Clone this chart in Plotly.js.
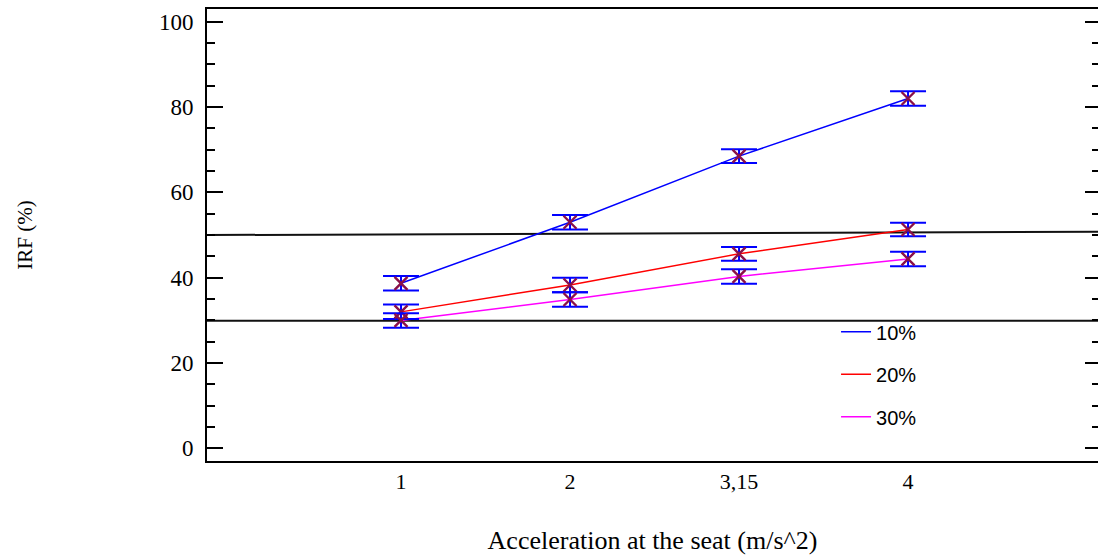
<!DOCTYPE html>
<html>
<head>
<meta charset="utf-8">
<script src="https://cdn.plot.ly/plotly-3.0.1.min.js"></script>
<style>html,body{margin:0;padding:0;background:#fff;}#chart{width:1102px;height:555px;}</style>
</head>
<body>
<div id="chart"></div>
<script>
// Data
const categories = ['1', '2', '3,15', '4'];
const seriesNames = ['10%', '20%', '30%'];
const irf10 = [38.7, 53.0, 68.5, 82.0];
const irf20 = [32.0, 38.3, 45.6, 51.3];
const irf30 = [30.0, 34.9, 40.3, 44.4];
const err10 = [1.7, 1.7, 1.6, 1.7];
const err20 = [1.7, 1.7, 1.6, 1.6];
const err30 = [1.7, 1.7, 1.7, 1.7];
const refLineUpper = [50.0, 50.8];   // slightly sloped black line (left, right)
const refLineLower = [29.9, 29.9];   // black line (left, right)
const yTickVals = [0, 20, 40, 60, 80, 100];

const lineColors = ['#0000ff', '#ff0000', '#ff00ff'];
const values = [irf10, irf20, irf30];
const errors = [err10, err20, err30];

const traces = [];
values.forEach((v, i) => {
  traces.push({
    x: categories, y: v, type: 'scatter', mode: 'lines', name: seriesNames[i],
    legendgroup: 'g' + i,
    line: {color: lineColors[i], width: 1.5}, hoverinfo: 'x+y+name'
  });
});
values.forEach((v, i) => {
  traces.push({
    x: categories, y: v, type: 'scatter', mode: 'markers', name: seriesNames[i],
    legendgroup: 'g' + i, showlegend: false,
    marker: {symbol: 'x-thin-open', size: 13, color: '#8a1048', line: {color: '#8a1048', width: 2.4}},
    error_y: {type: 'data', array: errors[i], visible: true, color: '#0000ff', thickness: 2, width: 18}
  });
});
// right-side mirror ticks trace (invisible) on secondary axis
traces.push({x: categories, y: irf10, yaxis: 'y2', type: 'scatter', mode: 'markers',
  marker: {opacity: 0}, showlegend: false, hoverinfo: 'skip'});

const serif = 'Liberation Serif, Times New Roman, serif';
const yRange = [-2.95, 102.98];

const layout = {
  width: 1102, height: 555,
  margin: {l: 207, r: 4, t: 9, b: 94},
  paper_bgcolor: '#ffffff', plot_bgcolor: '#ffffff',
  showlegend: true,
  legend: {
    x: 0.706, y: 0.329, xanchor: 'left', yanchor: 'top',
    font: {family: 'Liberation Sans, Arial, sans-serif', size: 20, color: '#000'},
    tracegroupgap: 13.5, bgcolor: 'rgba(0,0,0,0)', itemwidth: 30
  },
  xaxis: {
    type: 'category', range: [-1.148, 4.124],
    showgrid: false, zeroline: false,
    showline: true, linecolor: '#000', linewidth: 2, mirror: true,
    ticks: '', ticklabelstandoff: 0,
    tickfont: {family: serif, size: 22, color: '#000'},
    title: {text: 'Acceleration at the seat (m/s^2)', font: {family: serif, size: 26, color: '#000'}, standoff: 40}
  },
  yaxis: {
    range: yRange, tickvals: yTickVals,
    showgrid: false, zeroline: false,
    showline: true, linecolor: '#000', linewidth: 2,
    ticks: 'inside', ticklen: 16, tickwidth: 2, tickcolor: '#000',
    minor: {dtick: 5, ticks: 'inside', ticklen: 8, tickwidth: 2, tickcolor: '#000', showgrid: false},
    ticklabelstandoff: 7,
    tickfont: {family: serif, size: 23, color: '#000'},
    title: {text: 'IRF (%)', font: {family: serif, size: 21, color: '#000'}, standoff: 121}
  },
  yaxis2: {
    overlaying: 'y', side: 'right', range: yRange, tickvals: yTickVals,
    showgrid: false, zeroline: false, showline: false, showticklabels: false,
    ticks: 'inside', ticklen: 13, tickwidth: 2, tickcolor: '#000',
    minor: {dtick: 5, ticks: 'inside', ticklen: 6, tickwidth: 2, tickcolor: '#000', showgrid: false}
  },
  shapes: [
    {type: 'line', xref: 'paper', yref: 'y', x0: 0, x1: 1, y0: refLineUpper[0], y1: refLineUpper[1],
     line: {color: '#111', width: 2}, layer: 'below'},
    {type: 'line', xref: 'paper', yref: 'y', x0: 0, x1: 1, y0: refLineLower[0], y1: refLineLower[1],
     line: {color: '#111', width: 2}, layer: 'below'}
  ]
};

Plotly.newPlot('chart', traces, layout, {displayModeBar: false, staticPlot: false});
</script>
</body>
</html>
